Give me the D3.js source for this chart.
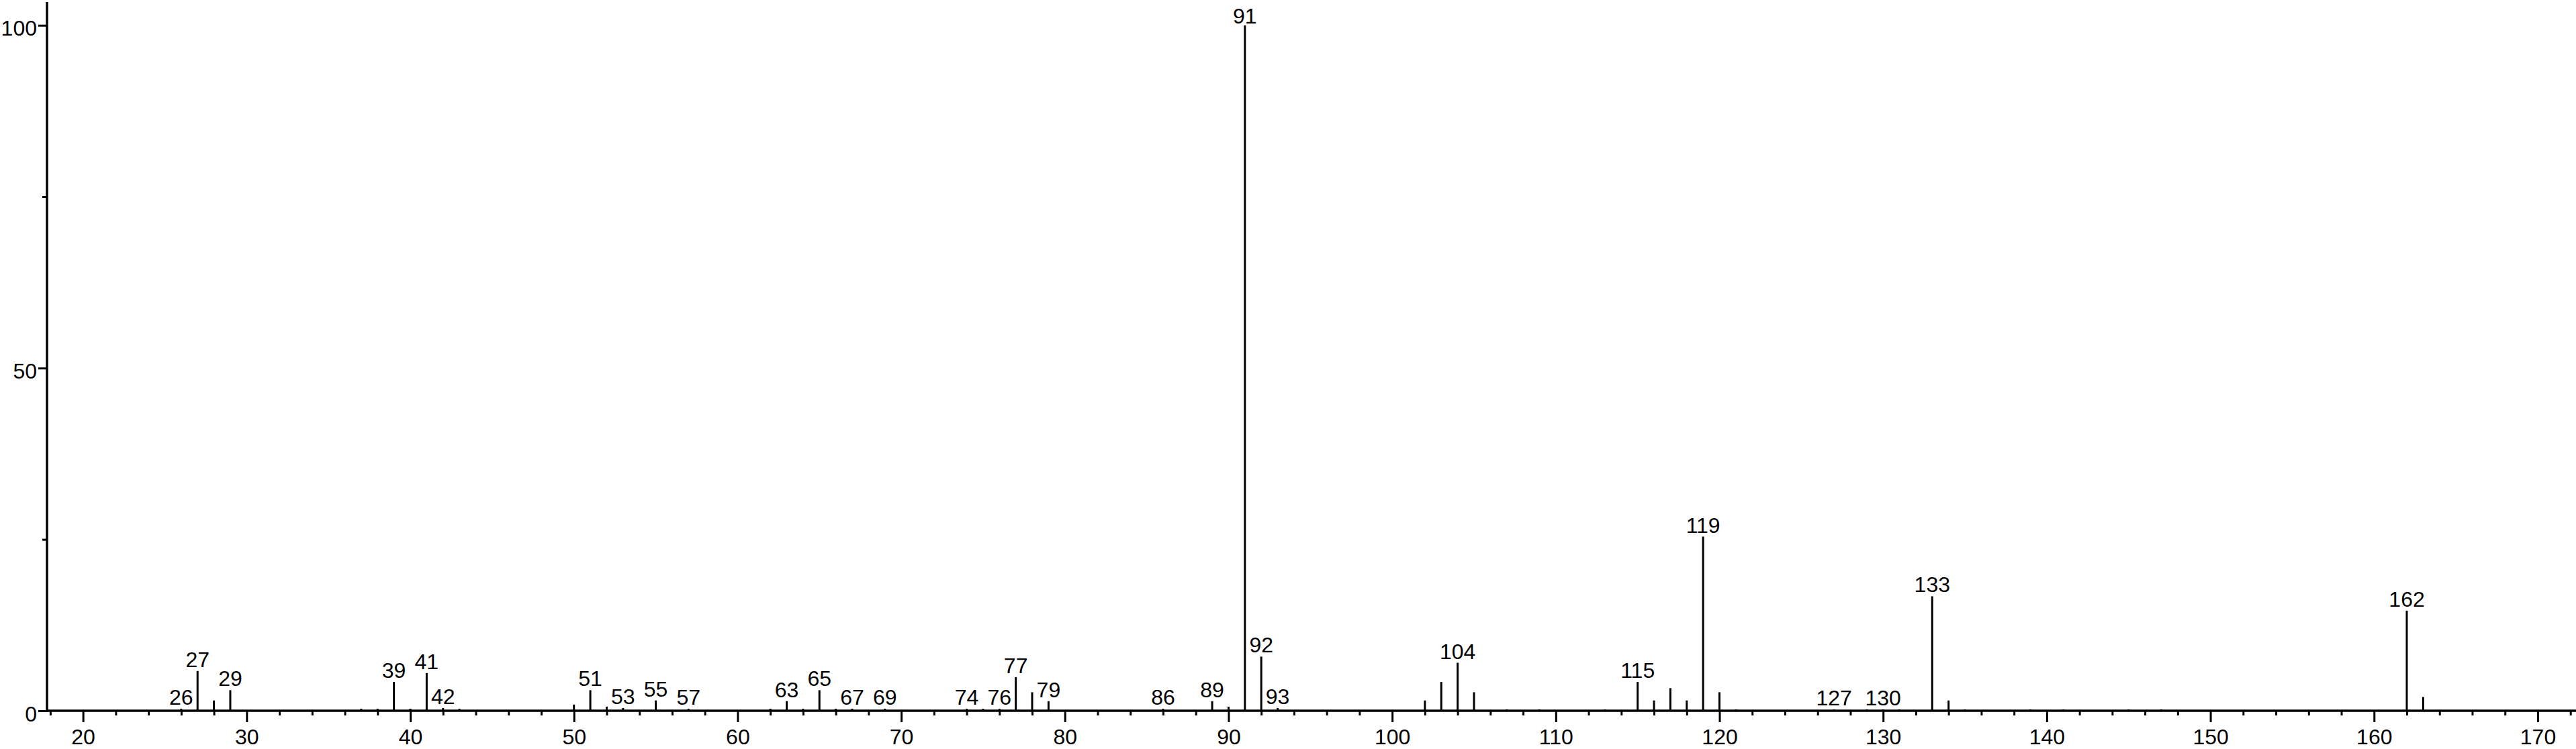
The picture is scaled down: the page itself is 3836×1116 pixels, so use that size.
<!DOCTYPE html>
<html>
<head>
<meta charset="utf-8">
<script src="https://cdn.jsdelivr.net/npm/d3@7"></script>
<style>
  html, body { margin: 0; padding: 0; background: #fff; }
  svg { display: block; }
  text { font-family: "Liberation Sans", Arial, Helvetica, sans-serif; fill: #000; }
</style>
</head>
<body>
<svg id="chart" width="3836" height="1116"></svg>
<script>
// ---- data (m/z, relative intensity %) ----
const mz = [26, 27, 28, 29, 37, 38, 39, 40, 41, 42, 43, 50, 51, 52, 53, 55, 57, 62, 63, 64, 65, 66, 67, 69,
            74, 75, 76, 77, 78, 79, 86, 89, 90, 91, 92, 93, 102, 103, 104, 105, 107, 109, 113, 115, 116, 117,
            118, 119, 120, 121, 127, 129, 130, 131, 133, 134, 135, 139, 141, 145, 147, 162, 163];
const intensity = [0.3, 5.8, 1.5, 3.0, 0.3, 0.3, 4.2, 0.3, 5.5, 0.4, 0.3, 0.9, 3.0, 0.6, 0.4, 1.5, 0.3, 0.3, 1.4, 0.3,
            3.0, 0.3, 0.3, 0.3, 0.3, 0.3, 0.3, 4.9, 2.7, 1.4, 0.3, 1.4, 0.6, 100, 7.9, 0.4, 1.5, 4.2, 7.0, 2.7,
            0.2, 0.2, 0.2, 4.2, 1.5, 3.3, 1.5, 25.4, 2.7, 0.2, 0.2, 0.2, 0.2, 0.2, 16.7, 1.5, 0.2, 0.2, 0.2,
            0.2, 0.2, 14.6, 2.0];
const labeled = [26, 27, 29, 39, 41, 42, 51, 53, 55, 57, 63, 65, 67, 69, 74, 76, 77, 79, 86, 89, 91, 92, 93,
            104, 115, 119, 127, 130, 133, 162];
const xMajorTicks = [20, 30, 40, 50, 60, 70, 80, 90, 100, 110, 120, 130, 140, 150, 160, 170];
const xMinorTicks = d3.range(18, 173, 2).filter(v => v % 10 !== 0);
const yMajorTicks = [0, 50, 100];
const yMinorTicks = [25, 75];

// ---- layout ----
const W = 3836, H = 1116;
const x0 = 70, yBase = 1059;
const x = d3.scaleLinear().domain([17.8, 172.34]).range([x0, W]);
const y = d3.scaleLinear().domain([0, 103.4]).range([yBase, 3]);

const svg = d3.select("#chart");
const peaks = mz.map((m, i) => ({ m, v: intensity[i] }));

// peaks
svg.append("g").selectAll("line").data(peaks).join("line")
  .attr("x1", d => x(d.m)).attr("x2", d => x(d.m))
  .attr("y1", yBase).attr("y2", d => y(d.v))
  .attr("stroke", "#000").attr("stroke-width", 3);

// peak labels
svg.append("g").selectAll("text").data(peaks.filter(d => labeled.includes(d.m))).join("text")
  .attr("x", d => x(d.m))
  .attr("y", d => Math.max(y(d.v) - 6, 35))
  .attr("text-anchor", "middle")
  .attr("font-size", 32)
  .text(d => d.m);

// x axis: minor ticks
const gxMinor = svg.append("g").attr("transform", `translate(0,${yBase})`)
  .call(d3.axisBottom(x).tickValues(xMinorTicks).tickSize(7).tickFormat(""));
gxMinor.select(".domain").remove();
gxMinor.selectAll(".tick line").attr("stroke", "#000").attr("stroke-width", 3);

// x axis: major ticks
const gx = svg.append("g").attr("transform", `translate(0,${yBase})`)
  .call(d3.axisBottom(x).tickValues(xMajorTicks).tickSize(17).tickFormat(d3.format("d")));
gx.select(".domain").remove();
gx.selectAll(".tick line").attr("stroke", "#000").attr("stroke-width", 3);
gx.selectAll(".tick text").attr("y", 50).attr("dy", null)
  .attr("font-size", 32).attr("font-family", "Liberation Sans, Arial, sans-serif").attr("fill", "#000");

// y axis: minor ticks
const gyMinor = svg.append("g").attr("transform", `translate(${x0},0)`)
  .call(d3.axisLeft(y).tickValues(yMinorTicks).tickSize(7).tickFormat(""));
gyMinor.select(".domain").remove();
gyMinor.selectAll(".tick line").attr("stroke", "#000").attr("stroke-width", 3);

// y axis: major ticks
const gy = svg.append("g").attr("transform", `translate(${x0},0)`)
  .call(d3.axisLeft(y).tickValues(yMajorTicks).tickSize(13).tickFormat(d3.format("d")));
gy.select(".domain").remove();
gy.selectAll(".tick line").attr("stroke", "#000").attr("stroke-width", 3);
gy.selectAll(".tick text").attr("x", -15).attr("dy", null).attr("y", 15)
  .attr("font-size", 32).attr("font-family", "Liberation Sans, Arial, sans-serif").attr("fill", "#000");

// axis lines
svg.append("line").attr("x1", x0).attr("x2", W).attr("y1", yBase).attr("y2", yBase)
  .attr("stroke", "#000").attr("stroke-width", 3.5);
svg.append("line").attr("x1", x0).attr("x2", x0).attr("y1", y.range()[1]).attr("y2", yBase + 1.75)
  .attr("stroke", "#000").attr("stroke-width", 3.5);
</script>
</body>
</html>
